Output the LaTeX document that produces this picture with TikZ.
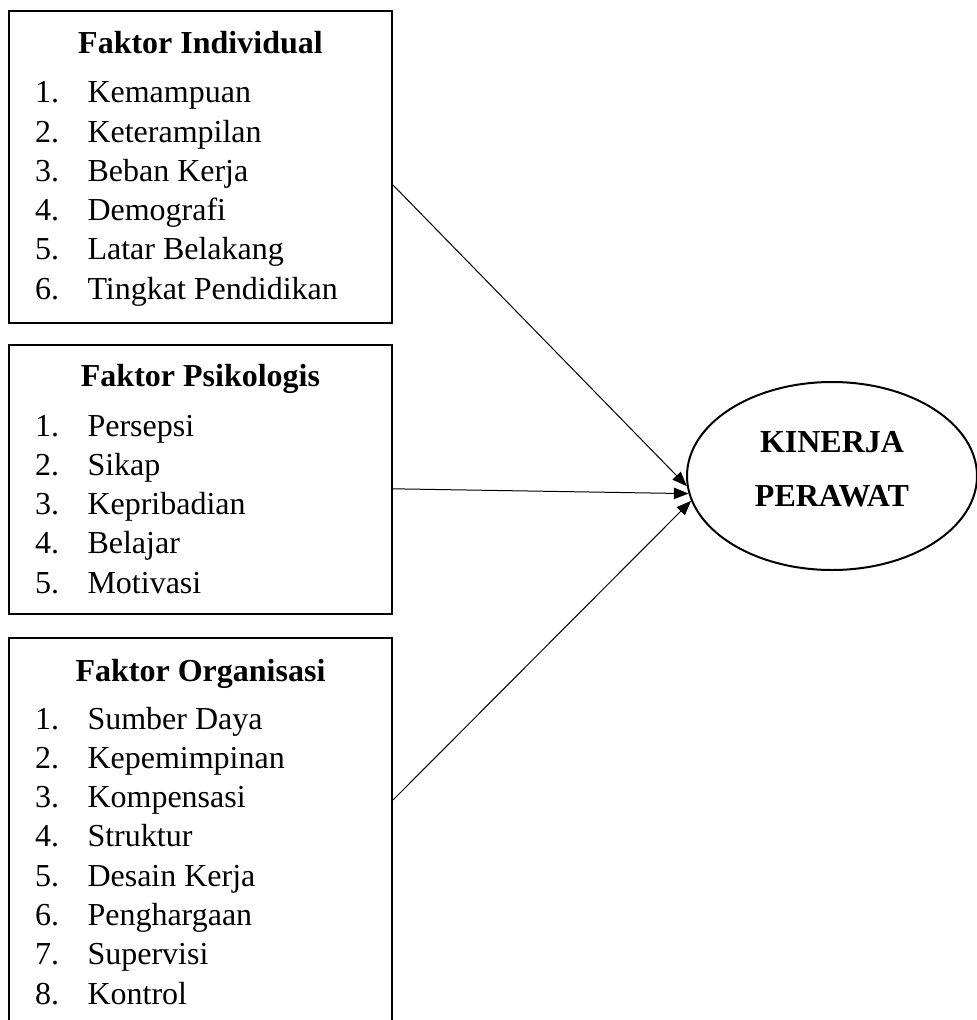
\documentclass[tikz,border=0pt]{standalone}
\usepackage{fontspec}
\setmainfont{Liberation Serif}
\usetikzlibrary{shapes.geometric,arrows.meta,calc}

\tikzset{every picture/.style={line width=0.75pt}}
\tikzset{
  factorbox/.style={draw, line width=1.5pt, rectangle, minimum width=287.25pt, inner sep=0pt},
  headtext/.style={anchor=base, inner sep=0.75pt, font=\fontsize{24}{29.5}\selectfont\bfseries},
  itemtext/.style={anchor=base west, inner sep=0.75pt, font=\fontsize{24}{29.5}\selectfont},
  link/.style={-{Triangle[length=11pt,width=8.5pt]}, line width=0.75pt},
}
\newcommand{\itm}[2]{\makebox[39.4pt][l]{#1.}#2}

\begin{document}
\begin{tikzpicture}[x=0.75pt,y=0.75pt,yscale=-1,xscale=1]
\useasboundingbox (0,0) rectangle (977,1020);
\clip (0,0) rectangle (977,1020);

%Shape: Rectangle [Faktor Individual]
\node [factorbox, minimum height=234pt] (indiv) at (200.5,167) {};
%Shape: Rectangle [Faktor Psikologis]
\node [factorbox, minimum height=202.1pt] (psiko) at (200.5,479.3) {};
%Shape: Rectangle [Faktor Organisasi]
\node [factorbox, minimum height=316.5pt] (organ) at (200.5,849) {};
%Shape: Ellipse [Kinerja Perawat]
\node [ellipse, draw, line width=1.5pt, minimum width=217.5pt, minimum height=141pt, inner sep=0pt,
  align=center, text depth=11pt, font=\fontsize{24}{40.5}\selectfont\bfseries] (kinerja) at (832,476) {KINERJA\\PERAWAT};

%Straight Lines
\draw [link] ($(indiv.east)+(0,18)$) -- (kinerja.184);
%Straight Lines
\draw [link] ($(psiko.east)+(0,9.5)$) -- (kinerja.187);
%Straight Lines
\draw [link] ($(organ.east)+(0,-49)$) -- (kinerja.190);

% Text Node
\node [headtext] (indivhead) at (200.5,54) {Faktor Individual};
\node [itemtext] (indiv1) at (33.5,103) {\itm{1}{Kemampuan}};
\node [itemtext] (indiv2) at (33.5,142.2) {\itm{2}{Keterampilan}};
\node [itemtext] (indiv3) at (33.5,181.4) {\itm{3}{Beban Kerja}};
\node [itemtext] (indiv4) at (33.5,220.6) {\itm{4}{Demografi}};
\node [itemtext] (indiv5) at (33.5,259.8) {\itm{5}{Latar Belakang}};
\node [itemtext] (indiv6) at (33.5,299) {\itm{6}{Tingkat Pendidikan}};

% Text Node
\node [headtext] (psikohead) at (200.5,386) {Faktor Psikologis};
\node [itemtext] (psiko1) at (33.5,436) {\itm{1}{Persepsi}};
\node [itemtext] (psiko2) at (33.5,475.3) {\itm{2}{Sikap}};
\node [itemtext] (psiko3) at (33.5,514.5) {\itm{3}{Kepribadian}};
\node [itemtext] (psiko4) at (33.5,553.8) {\itm{4}{Belajar}};
\node [itemtext] (psiko5) at (33.5,593) {\itm{5}{Motivasi}};

% Text Node
\node [headtext] (organhead) at (200.5,681) {Faktor Organisasi};
\node [itemtext] (organ1) at (33.5,729) {\itm{1}{Sumber Daya}};
\node [itemtext] (organ2) at (33.5,768.3) {\itm{2}{Kepemimpinan}};
\node [itemtext] (organ3) at (33.5,807.6) {\itm{3}{Kompensasi}};
\node [itemtext] (organ4) at (33.5,846.9) {\itm{4}{Struktur}};
\node [itemtext] (organ5) at (33.5,886.1) {\itm{5}{Desain Kerja}};
\node [itemtext] (organ6) at (33.5,925.4) {\itm{6}{Penghargaan}};
\node [itemtext] (organ7) at (33.5,964.7) {\itm{7}{Supervisi}};
\node [itemtext] (organ8) at (33.5,1004) {\itm{8}{Kontrol}};

\end{tikzpicture}
\end{document}
